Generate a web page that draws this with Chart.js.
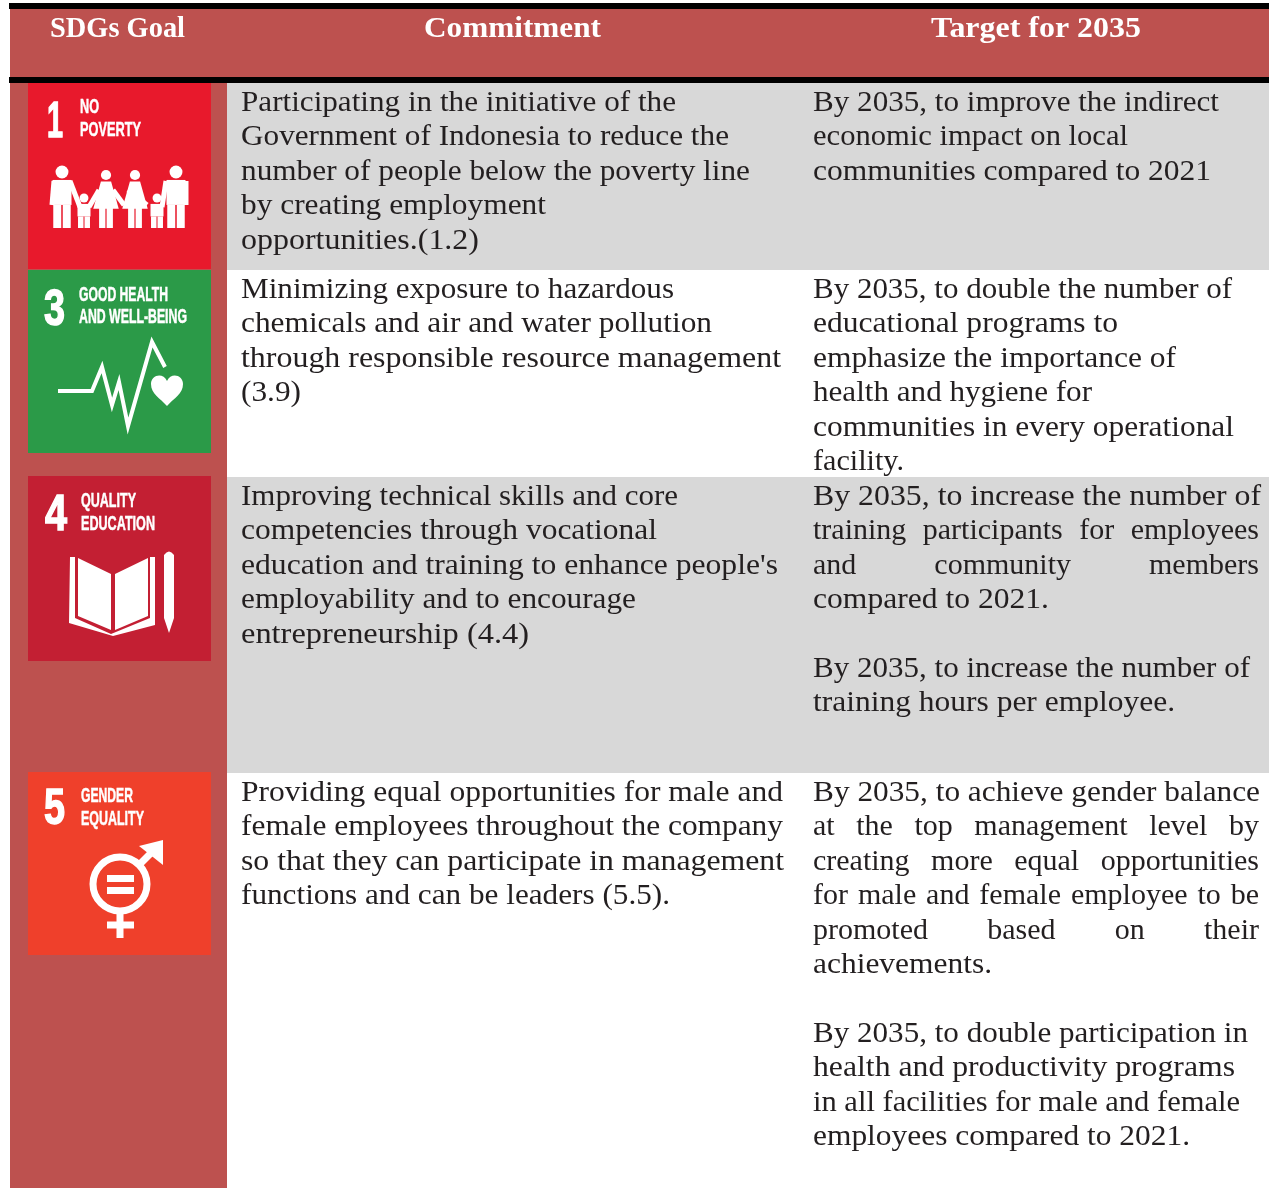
<!DOCTYPE html>
<html>
<head>
<meta charset="utf-8">
<style>
html, body { margin: 0; padding: 0; background: #fff; }
canvas { display: block; }
</style>
<script src="https://cdn.jsdelivr.net/npm/chart.js@4"></script>
</head>
<body>
<canvas id="sdgTable" width="1269" height="1188"></canvas>
<script>
const headers = ['SDGs Goal', 'Commitment', 'Target for 2035'];

const goalNumbers = ['1', '3', '4', '5'];
const goalTitles = [['NO', 'POVERTY'], ['GOOD HEALTH', 'AND WELL-BEING'], ['QUALITY', 'EDUCATION'], ['GENDER', 'EQUALITY']];

const commitments = [
    ['Participating in the initiative of the', 'Government of Indonesia to reduce the', 'number of people below the poverty line', 'by creating employment', 'opportunities.(1.2)'],
    ['Minimizing exposure to hazardous', 'chemicals and air and water pollution', 'through responsible resource management', '(3.9)'],
    ['Improving technical skills and core', 'competencies through vocational', "education and training to enhance people's", 'employability and to encourage', 'entrepreneurship (4.4)'],
    ['Providing equal opportunities for male and', 'female employees throughout the company', 'so that they can participate in management', 'functions and can be leaders (5.5).']
];

const targets = [
    ['By 2035, to improve the indirect', 'economic impact on local', 'communities compared to 2021'],
    ['By 2035, to double the number of', 'educational programs to', 'emphasize the importance of', 'health and hygiene for', 'communities in every operational', 'facility.'],
    ['By 2035, to increase the number of', '>training participants for employees', '>and community members', 'compared to 2021.', '', 'By 2035, to increase the number of', 'training hours per employee.'],
    ['By 2035, to achieve gender balance', '>at the top management level by', '>creating more equal opportunities', '>for male and female employee to be', '>promoted based on their', 'achievements.', '', 'By 2035, to double participation in', 'health and productivity programs', 'in all facilities for male and female', 'employees compared to 2021.']
];

// right edge of every text line as it sits in the page
const commitmentEnds = [
    [676, 729, 750, 546, 479],
    [674, 712, 781, 301],
    [678, 657, 778, 636, 529],
    [783, 783, 784, 670]
];
const targetEnds = [
    [1219, 1128, 1211],
    [1232, 1118, 1176, 1092, 1234, 904],
    [1261, 1259, 1259, 1049, 0, 1250, 1175],
    [1260, 1259, 1259, 1259, 1259, 992, 0, 1248, 1235, 1240, 1190]
];

// table geometry, in page pixels
const RED = '#bd514f';
const GREY = '#d8d8d8';
const tileColors = ['#e8192c', '#2b9a48', '#c31f33', '#ef402b'];
const tileTops = [83, 270, 476, 772];
const tileBottoms = [269, 453, 661, 955];
const textTops = [102, 289, 496, 792];
const LINE_STEP = 34.4;

const cells = [
    [28, 211, tileTops[0], tileBottoms[0], tileColors[0]],
    [28, 211, tileTops[1], tileBottoms[1], tileColors[1]],
    [28, 211, tileTops[2], tileBottoms[2], tileColors[2]],
    [28, 211, tileTops[3], tileBottoms[3], tileColors[3]],
    [9, 1269, 3, 9, '#000'],
    [9, 1269, 77, 83, '#000'],
    [10, 1269, 9, 77, RED],
    [10, 227, 83, 1188, RED],
    [226, 1269, 83, 270, GREY],
    [226, 1269, 477, 773, GREY]
];

const BODY_FONT = '30px "Liberation Serif"';
const HEAD_FONT = 'bold 29px "Liberation Serif"';
const TILE_FONT = 'bold 20px "Liberation Sans Narrow", "Liberation Sans"';
const NUM_FONT = 'bold 50px "Liberation Sans Narrow", "Liberation Sans"';

function fitText(ctx, str, x0, x1, base, font, heavy) {
    ctx.save();
    ctx.font = font;
    ctx.textAlign = 'left';
    const w = ctx.measureText(str).width;
    ctx.translate(x0, base);
    ctx.scale((x1 - x0) / w, 1);
    ctx.fillText(str, 0, 0);
    if (heavy) {
        ctx.lineWidth = heavy;
        ctx.strokeText(str, 0, 0);
    }
    ctx.restore();
}

function bodyLine(ctx, raw, x, base, right) {
    if (!raw) return;
    const justified = raw[0] === '>';
    const str = justified ? raw.slice(1) : raw;
    if (!justified) {
        fitText(ctx, str, x, right, base, BODY_FONT);
        return;
    }
    ctx.font = BODY_FONT;
    const words = str.split(' ');
    const total = words.reduce((acc, w) => acc + ctx.measureText(w).width, 0);
    const gap = (right - x - total) / (words.length - 1);
    let pos = x;
    words.forEach(w => {
        ctx.fillText(w, pos, base);
        pos += ctx.measureText(w).width + gap;
    });
}

function person(ctx, x, head, feet, w, dress) {
    const r = w * 0.34;
    ctx.beginPath();
    ctx.arc(x, head, r, 0, Math.PI * 2);
    ctx.fill();
    const top = head + r + 1.5;
    const mid = top + (feet - top) * 0.52;
    ctx.beginPath();
    if (dress) {
        ctx.moveTo(x - w * 0.34, top);
        ctx.lineTo(x + w * 0.34, top);
        ctx.lineTo(x + w * 0.85, mid + 3);
        ctx.lineTo(x - w * 0.85, mid + 3);
    } else {
        ctx.rect(x - w * 0.5, top, w, mid - top);
    }
    ctx.fill();
    ctx.fillRect(x - w * 0.46, mid, w * 0.42, feet - mid);
    ctx.fillRect(x + w * 0.04, mid, w * 0.42, feet - mid);
}

function drawIcons(ctx) {
    ctx.save();
    ctx.filter = 'blur(0.5px)';
    ctx.fillStyle = '#fff';
    ctx.strokeStyle = '#fff';
    ctx.lineJoin = 'miter';

    // 1 no poverty
    person(ctx, 62, 172, 228, 19, false);
    person(ctx, 84, 198, 228, 13, false);
    person(ctx, 106, 175, 228, 15, true);
    person(ctx, 135, 175, 228, 15, true);
    person(ctx, 157, 198, 228, 13, false);
    person(ctx, 176, 172, 228, 19, false);
    ctx.lineWidth = 5;
    [[54, 181, 52, 205], [70, 181, 80, 207], [89, 207, 99, 190], [113, 190, 124, 205], [147, 205, 128, 190], [166, 181, 162, 207], [186, 181, 186, 205]].forEach(s => {
        ctx.beginPath();
        ctx.moveTo(s[0], s[1]);
        ctx.lineTo(s[2], s[3]);
        ctx.stroke();
    });

    // 3 good health
    ctx.lineWidth = 4;
    ctx.beginPath();
    [[58, 391], [92, 391], [102, 367], [112, 405], [119, 382], [128, 426], [152, 342], [165, 367]].forEach((p, i) => {
        if (i === 0) ctx.moveTo(p[0], p[1]);
        else ctx.lineTo(p[0], p[1]);
    });
    ctx.stroke();
    ctx.beginPath();
    ctx.moveTo(167, 406);
    ctx.bezierCurveTo(160, 398, 151, 394, 151, 384);
    ctx.bezierCurveTo(151, 375, 163, 372, 167, 381);
    ctx.bezierCurveTo(171, 372, 183, 375, 183, 384);
    ctx.bezierCurveTo(183, 394, 174, 398, 167, 406);
    ctx.fill();

    // 4 quality education
    ctx.beginPath();
    ctx.moveTo(70, 557);
    ctx.lineTo(75, 557);
    ctx.lineTo(75, 618);
    ctx.lineTo(111, 634);
    ctx.lineTo(150, 618);
    ctx.lineTo(150, 557);
    ctx.lineTo(155, 557);
    ctx.lineTo(155, 625);
    ctx.lineTo(113, 636);
    ctx.lineTo(69, 623);
    ctx.closePath();
    ctx.fill();
    ctx.beginPath();
    ctx.moveTo(78, 558);
    ctx.lineTo(111, 574);
    ctx.lineTo(111, 630);
    ctx.lineTo(78, 616);
    ctx.closePath();
    ctx.moveTo(115, 574);
    ctx.lineTo(148, 558);
    ctx.lineTo(148, 616);
    ctx.lineTo(115, 630);
    ctx.closePath();
    ctx.fill();
    ctx.beginPath();
    ctx.moveTo(164, 555);
    ctx.quadraticCurveTo(169, 548, 174, 555);
    ctx.lineTo(174, 618);
    ctx.lineTo(169, 633);
    ctx.lineTo(164, 618);
    ctx.closePath();
    ctx.fill();

    // 5 gender equality
    ctx.lineWidth = 7;
    ctx.beginPath();
    ctx.arc(120, 884, 27, 0, Math.PI * 2);
    ctx.stroke();
    ctx.fillRect(107, 875, 27, 7);
    ctx.fillRect(107, 887, 27, 7);
    ctx.beginPath();
    ctx.moveTo(140, 864);
    ctx.lineTo(155, 849);
    ctx.stroke();
    ctx.beginPath();
    ctx.moveTo(139, 846);
    ctx.lineTo(163, 840);
    ctx.lineTo(163, 865);
    ctx.closePath();
    ctx.fill();
    ctx.beginPath();
    ctx.moveTo(120, 912);
    ctx.lineTo(120, 938);
    ctx.moveTo(107, 925);
    ctx.lineTo(134, 925);
    ctx.stroke();
    ctx.restore();
}

function drawTileText(ctx) {
    const numBoxes = [[47, 63, 137], [44, 65, 325], [45, 67, 530], [44, 65, 824]];
    const titleBoxes = [
        [[80, 99, 113], [80, 141, 136]],
        [[79, 168, 301], [79, 187, 323]],
        [[81, 136, 507], [81, 155, 530]],
        [[81, 133, 802], [81, 144, 825]]
    ];
    ctx.save();
    ctx.filter = 'blur(0.5px)';
    ctx.fillStyle = '#fff';
    ctx.strokeStyle = '#fff';
    goalNumbers.forEach((n, i) => {
        const b = numBoxes[i];
        fitText(ctx, n, b[0], b[1], b[2], NUM_FONT, 1.5);
        goalTitles[i].forEach((t, j) => {
            const tb = titleBoxes[i][j];
            fitText(ctx, t, tb[0], tb[1], tb[2], TILE_FONT, 0.5);
        });
    });
    ctx.restore();
}

const tablePlugin = {
    id: 'tablePlugin',
    afterDatasetsDraw(chart) {
        const ctx = chart.ctx;
        ctx.save();
        ctx.textBaseline = 'alphabetic';

        drawIcons(ctx);
        drawTileText(ctx);

        // header row
        const headSpans = [[50, 185], [424, 601], [931, 1141]];
        ctx.fillStyle = '#fff';
        headers.forEach((h, i) => fitText(ctx, h, headSpans[i][0], headSpans[i][1], 37, HEAD_FONT));

        // body text
        ctx.fillStyle = '#231f20';
        commitments.forEach((lines, row) => {
            lines.forEach((l, i) => bodyLine(ctx, l, 241, textTops[row] + 9 + i * LINE_STEP, commitmentEnds[row][i]));
        });
        targets.forEach((lines, row) => {
            lines.forEach((l, i) => bodyLine(ctx, l, 813, textTops[row] + 9 + i * LINE_STEP, targetEnds[row][i]));
        });
        ctx.restore();
    }
};

new Chart(document.getElementById('sdgTable').getContext('2d'), {
    type: 'bar',
    data: {
        datasets: cells.map(c => ({
            data: [{ x: [c[0], c[1]], y: (c[2] + c[3]) / 2 }],
            barThickness: c[3] - c[2],
            backgroundColor: c[4],
            borderWidth: 0,
            inflateAmount: 0,
            stack: 'cells'
        }))
    },
    options: {
        indexAxis: 'y',
        responsive: false,
        animation: false,
        layout: { padding: 0 },
        scales: {
            x: { type: 'linear', min: 0, max: 1269, display: false, stacked: false },
            y: { type: 'linear', min: 0, max: 1188, reverse: true, display: false, offset: false }
        },
        plugins: { legend: { display: false }, tooltip: { enabled: false } }
    },
    plugins: [tablePlugin]
});
</script>
</body>
</html>
